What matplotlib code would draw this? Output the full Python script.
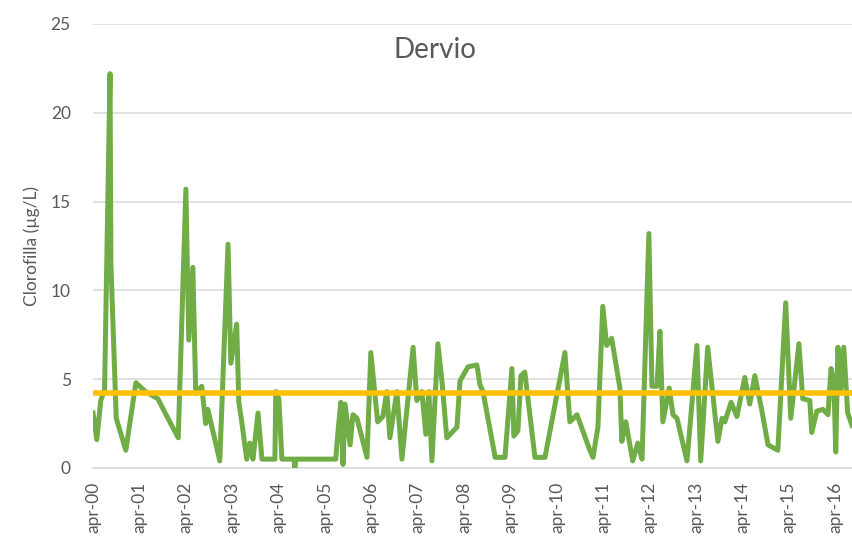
import matplotlib
matplotlib.use("Agg")
import matplotlib.pyplot as plt
import pandas as pd

plt.rcParams["font.family"] = ["Lato", "DejaVu Sans"]

# sampling dates and chlorophyll values
dates = [
    "2000-04-01", "2000-05-01", "2000-06-01", "2000-07-01", "2000-08-13", "2000-08-20",
    "2000-10-01", "2000-12-15", "2001-03-05", "2001-05-20", "2001-08-25", "2001-10-28",
    "2002-02-01", "2002-04-02", "2002-04-25", "2002-05-27", "2002-06-19", "2002-08-05",
    "2002-09-05", "2002-09-22", "2002-12-25", "2003-02-28", "2003-03-22", "2003-05-07",
    "2003-05-24", "2003-06-16", "2003-07-25", "2003-08-18", "2003-09-12", "2003-10-22",
    "2003-11-22", "2004-03-03", "2004-03-10", "2004-04-03", "2004-04-27", "2004-08-01",
    "2004-08-07", "2004-08-15", "2005-06-25", "2005-07-12", "2005-08-04", "2005-08-21",
    "2005-09-06", "2005-10-16", "2005-11-07", "2005-12-09", "2006-02-26", "2006-03-28",
    "2006-05-21", "2006-07-01", "2006-08-01", "2006-08-25", "2006-10-19", "2006-11-28",
    "2007-02-24", "2007-03-25", "2007-05-04", "2007-06-04", "2007-06-28", "2007-07-22",
    "2007-09-07", "2007-10-09", "2007-11-16", "2008-02-04", "2008-02-28", "2008-05-01",
    "2008-07-10", "2008-08-03", "2008-08-27", "2008-12-01", "2009-02-16", "2009-04-12",
    "2009-04-27", "2009-05-29", "2009-06-22", "2009-07-22", "2009-10-10", "2009-12-28",
    "2010-06-03", "2010-07-12", "2010-09-06", "2010-12-16", "2011-01-10", "2011-02-18",
    "2011-03-28", "2011-04-28", "2011-06-06", "2011-08-10", "2011-08-25", "2011-09-25",
    "2011-11-19", "2011-12-28", "2012-01-31", "2012-03-25", "2012-04-18", "2012-05-28",
    "2012-06-20", "2012-07-13", "2012-09-01", "2012-10-01", "2012-11-01", "2013-01-19",
    "2013-04-07", "2013-05-07", "2013-07-01", "2013-09-19", "2013-10-22", "2013-11-13",
    "2014-01-01", "2014-02-16", "2014-04-19", "2014-05-28", "2014-07-07", "2014-09-01",
    "2014-10-19", "2015-01-04", "2015-03-07", "2015-04-16", "2015-06-19", "2015-07-19",
    "2015-09-13", "2015-09-28", "2015-11-07", "2015-12-25", "2016-02-03", "2016-02-27",
    "2016-03-20", "2016-04-04", "2016-04-21", "2016-05-13", "2016-06-06", "2016-07-07",
    "2016-08-10",
]
clorofilla = [
    3.1, 1.6, 3.8, 4.4, 22.2, 11.5,
    2.8, 1.0, 4.8, 4.3, 3.9, 3.0,
    1.7, 15.7, 7.2, 11.3, 4.2, 4.6,
    2.5, 3.3, 0.4, 12.6, 5.9, 8.1,
    3.7, 2.6, 0.5, 1.4, 0.5, 3.1,
    0.5, 0.5, 4.3, 3.9, 0.5, 0.5,
    0.0, 0.5, 0.5, 2.0, 3.7, 0.2,
    3.6, 1.3, 3.0, 2.8, 0.6, 6.5,
    2.6, 2.9, 4.3, 1.7, 4.3, 0.5,
    6.8, 3.8, 4.3, 1.9, 4.3, 0.4,
    7.0, 4.9, 1.7, 2.3, 4.9, 5.7,
    5.8, 4.7, 4.3, 0.6, 0.6, 5.6,
    1.8, 2.1, 5.2, 5.4, 0.6, 0.6,
    6.5, 2.6, 3.0, 1.0, 0.6, 2.3,
    9.1, 6.9, 7.3, 4.5, 1.5, 2.6,
    0.4, 1.4, 0.5, 13.2, 4.6, 4.6,
    7.7, 2.6, 4.5, 3.0, 2.8, 0.4,
    6.9, 0.4, 6.8, 1.5, 2.8, 2.6,
    3.7, 2.9, 5.1, 3.6, 5.2, 3.2,
    1.3, 1.0, 9.3, 2.8, 7.0, 3.9,
    3.8, 2.0, 3.2, 3.3, 3.0, 5.6,
    4.9, 0.9, 6.8, 4.3, 6.8, 3.1,
    2.4,
]
soglia = 4.2  # reference level (orange line)
tick_years = list(range(2000, 2017))

x = pd.to_datetime(dates)
text_col = "#595959"

fig = plt.figure(figsize=(8.52, 5.42), dpi=100)
ax = fig.add_axes([93 / 852, 1 - 468 / 542, 1 - 93 / 852, (468 - 24) / 542])

ax.plot(x, clorofilla, color="#70AD47", lw=3.6, solid_joinstyle="round", zorder=3)
ax.axhline(soglia, color="#FFC000", lw=4, zorder=4)

ax.set_ylim(0, 25)
ax.set_yticks([0, 5, 10, 15, 20, 25])
ax.set_xlim(pd.Timestamp("2000-04-01"), pd.Timestamp("2016-08-10"))
ax.set_xticks([pd.Timestamp(f"{y}-04-01") for y in tick_years])
ax.set_xticklabels([f"apr-{y % 100:02d}" for y in tick_years], rotation=90)

ax.grid(axis="y", color="#D9D9D9", lw=1.1, zorder=0)
for s in ["top", "right", "left"]:
    ax.spines[s].set_visible(False)
ax.spines["bottom"].set_color("#D9D9D9")
ax.spines["bottom"].set_linewidth(1.1)
ax.tick_params(axis="both", length=0, labelsize=12.5, colors=text_col)
ax.tick_params(axis="y", pad=16)
ax.tick_params(axis="x", pad=10)

ax.set_ylabel("Clorofilla (µg/L)", fontsize=12.5, color=text_col, labelpad=8)
fig.text(435 / 852, 1 - 50 / 542, "Dervio", fontsize=20, color=text_col,
         ha="center", va="center")

fig.savefig("out.png", dpi=100)
